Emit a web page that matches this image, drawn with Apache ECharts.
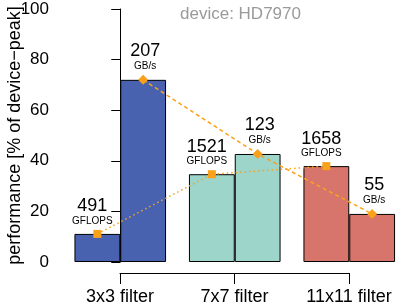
<!DOCTYPE html>
<html><head><meta charset="utf-8">
<script src="https://cdn.jsdelivr.net/npm/echarts@6/dist/echarts.min.js"></script>
<style>html,body{margin:0;padding:0;background:#fff}#c{width:407px;height:308px}</style>
</head><body><div id="c"></div>
<script>
const categories = ['3x3 filter', '7x7 filter', '11x11 filter'];
const computePct = [11.1, 34.7, 37.9];     // % of device peak (compute)
const bandwidthPct = [72, 42.7, 19];       // % of device peak (bandwidth)
const gflops = [491, 1521, 1658];
const gbps = [207, 123, 55];
const barColors = ['#4862af', '#9dd5cb', '#d7746b'];
const yTicks = { min: 0, max: 100, interval: 20 };

const FONT = 'Liberation Sans, Arial, Helvetica, sans-serif';
const ORANGE = '#f9a11b';
const BAR_FRAC = 0.4;

const chart = echarts.init(document.getElementById('c'), null, { renderer: 'canvas' });

const barStyle = {
  color: p => barColors[p.dataIndex],
  borderColor: '#000', borderWidth: 1
};

chart.setOption({
  animation: false,
  title: {
    text: 'device: HD7970', left: 175, top: 1,
    textStyle: { color: '#9a9a9a', fontSize: 17, fontWeight: 'normal', fontFamily: FONT }
  },
  grid: [
    { left: 63, right: 0.5, top: 9, bottom: 46, outerBoundsMode: 'none', containLabel: false },
    { left: 120, right: 58, top: 200, bottom: 35, outerBoundsMode: 'none', containLabel: false }
  ],
  xAxis: [
    { gridIndex: 0, type: 'category', data: categories, show: false },
    { gridIndex: 0, type: 'value', min: -0.5, max: 2.5, show: false },
    {
      gridIndex: 1, type: 'category', data: categories, boundaryGap: false,
      axisLine: { show: true, lineStyle: { color: '#000', width: 1 } },
      axisTick: { show: true, length: 11, inside: false, lineStyle: { color: '#000' } },
      axisLabel: { interval: 0, margin: 15, color: '#000', fontSize: 18, fontFamily: FONT },
      splitLine: { show: false }
    }
  ],
  yAxis: [
    {
      gridIndex: 0, type: 'value', min: yTicks.min, max: yTicks.max, interval: yTicks.interval,
      offset: 2,
      name: 'performance [% of device\u2212peak]', nameLocation: 'middle', nameGap: 37,
      nameMoveOverlap: false,
      nameTextStyle: { color: '#000', fontSize: 18, fontFamily: FONT },
      axisLine: { show: true, lineStyle: { color: '#000', width: 1 } },
      axisTick: { show: true, length: 9, lineStyle: { color: '#000' } },
      axisLabel: { color: '#000', fontSize: 17, margin: 12, fontFamily: FONT },
      splitLine: { show: false }
    },
    { gridIndex: 1, type: 'value', show: false }
  ],
  series: [
    {
      type: 'bar', xAxisIndex: 0, yAxisIndex: 0, data: computePct,
      barWidth: (BAR_FRAC * 100) + '%', barGap: '0%', itemStyle: barStyle, z: 2
    },
    {
      type: 'bar', xAxisIndex: 0, yAxisIndex: 0, data: bandwidthPct,
      barWidth: (BAR_FRAC * 100) + '%', barGap: '0%', itemStyle: barStyle, z: 2
    },
    {
      type: 'line', xAxisIndex: 1, yAxisIndex: 0, z: 5, smooth: false,
      data: computePct.map((v, i) => [i - BAR_FRAC / 2, v]),
      symbol: 'rect', symbolSize: 8, itemStyle: { color: ORANGE },
      lineStyle: { color: ORANGE, width: 1.5, type: [1.5, 3] },
      label: {
        show: true, position: 'top', distance: 3, offset: [-5, 0],
        formatter: p => '{a|' + gflops[p.dataIndex] + '}\n{b|GFLOPS}',
        rich: {
          a: { fontSize: 18, lineHeight: 17, color: '#000', fontFamily: FONT, align: 'center' },
          b: { fontSize: 10, lineHeight: 12, color: '#000', fontFamily: FONT, align: 'center' }
        }
      }
    },
    {
      type: 'line', xAxisIndex: 1, yAxisIndex: 0, z: 5, smooth: false,
      data: bandwidthPct.map((v, i) => [i + BAR_FRAC / 2, v]),
      symbol: 'diamond', symbolSize: 10, itemStyle: { color: ORANGE },
      lineStyle: { color: ORANGE, width: 1.5, type: [4, 3] },
      label: {
        show: true, position: 'top', distance: 3, offset: [2, 0],
        formatter: p => '{a|' + gbps[p.dataIndex] + '}\n{b|GB/s}',
        rich: {
          a: { fontSize: 18, lineHeight: 17, color: '#000', fontFamily: FONT, align: 'center' },
          b: { fontSize: 10, lineHeight: 12, color: '#000', fontFamily: FONT, align: 'center' }
        }
      }
    }
  ]
});
</script></body></html>
